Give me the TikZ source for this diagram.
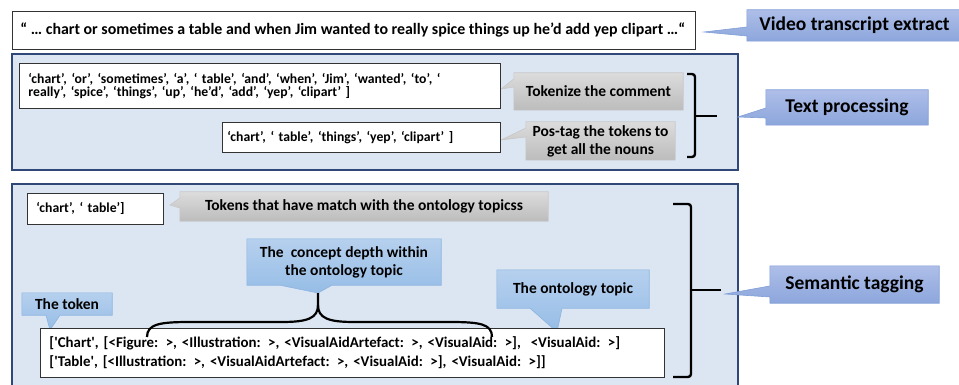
\documentclass[tikz,border=0pt]{standalone}
\usepackage{fontspec}
\setmainfont{Carlito}
\usetikzlibrary{calc}
\definecolor{panelfill}{RGB}{220,230,242}
\definecolor{panelline}{RGB}{47,72,120}
\definecolor{bluetop}{RGB}{174,190,232}
\definecolor{bluebot}{RGB}{140,166,220}
\definecolor{blueline}{RGB}{128,158,214}
\definecolor{ltop}{RGB}{182,208,238}
\definecolor{lbot}{RGB}{150,189,230}
\definecolor{lline}{RGB}{140,180,225}
\definecolor{gtop}{RGB}{220,220,220}
\definecolor{gbot}{RGB}{188,188,188}
\definecolor{gline}{RGB}{200,200,200}
\pgfdeclarelayer{bg}
\pgfdeclarelayer{mid}
\pgfsetlayers{bg,mid,main}
\tikzset{
  panel/.style={draw=panelline, line width=2.4pt, fill=panelfill},
  txtbox/.style={draw=black!80, line width=0.9pt, fill=white, anchor=north west,
    align=left, inner ysep=0pt, font=\bfseries\fontsize{13.7}{13.5}\selectfont},
  calltext/.style={inner sep=0pt, align=center, font=\bfseries\fontsize{15.5}{18}\selectfont},
  bigtext/.style={inner sep=0pt, align=center, font=\bfseries\fontsize{19.5}{22}\selectfont},
  bluecall/.style={top color=bluetop, bottom color=bluebot, draw=blueline, line width=0.6pt},
  lightcall/.style={top color=ltop, bottom color=lbot, draw=lline, line width=0.6pt},
  graycall/.style={top color=gtop, bottom color=gbot, draw=gline, line width=0.6pt},
  bracket/.style={draw=black, line width=2.4pt, rounded corners=3pt},
  curly/.style={draw=black, line width=2.2pt},
}
\begin{document}
\begin{tikzpicture}[x=1pt,y=-1pt]
\useasboundingbox (0,0) rectangle (959,385);

% panels
\begin{pgfonlayer}{bg}
\path[panel] (12,54) rectangle (738,170);
\path[panel] (12,184) rectangle (738,398);
\end{pgfonlayer}

% text boxes
\node[txtbox, minimum width=683, minimum height=38, inner xsep=8,
  font=\bfseries\fontsize{15.9}{16}\selectfont] (trans) at (12,11)
  {\makebox[667pt][l]{“ … chart or sometimes a table and when Jim wanted to really spice things up he’d add yep clipart …“}};
\node[txtbox, minimum width=481, minimum height=45, text width=463, inner xsep=9] (tb1) at (19,63)
  {‘chart’, ‘or’, ‘sometimes’, ‘a’, ‘ table’, ‘and’, ‘when’, ‘Jim’, ‘wanted’, ‘to’, ‘\\\relax
   really’, ‘spice’, ‘things’, ‘up’, ‘he’d’, ‘add’, ‘yep’, ‘clipart’ ]};
\node[txtbox, minimum width=278, minimum height=30, text width=268, inner xsep=5] (tb2) at (222,122)
  {‘chart’, ‘ table’, ‘things’, ‘yep’, ‘clipart’ ]};
\node[txtbox, minimum width=136, minimum height=31, text width=118, inner xsep=9] (ct) at (27,193)
  {‘chart’, ‘ table’]};
\node[txtbox, minimum width=624, minimum height=49, text width=606, inner xsep=9,
  font=\bfseries\fontsize{14.9}{19}\selectfont] (res) at (40,328)
  {[\textquotesingle Chart\textquotesingle, [<Figure: >, <Illustration: >, <VisualAidArtefact: >, <VisualAid: >],~ <VisualAid: >]\\\relax
   [\textquotesingle Table\textquotesingle, [<Illustration: >, <VisualAidArtefact: >, <VisualAid: >], <VisualAid: >]]};

% callout texts
\node[bigtext, minimum width=215, minimum height=31] (vte) at (854.5,25.5) {Video transcript extract};
\node[bigtext, minimum width=162, minimum height=35] (tpc) at (847,107.5) {Text processing};
\node[bigtext, minimum width=169, minimum height=37] (stc) at (854.5,284.5) {Semantic tagging};
\node[calltext, minimum width=169, minimum height=37] (tok) at (598.5,91.5) {Tokenize the comment};
\node[calltext, minimum width=149, minimum height=38] (pos) at (600.5,141) {Pos-tag the tokens to\\get all the nouns};
\node[calltext, minimum width=368, minimum height=29] (tmc) at (364,206.5) {Tokens that have match with the ontology topicss};
\node[calltext, minimum width=194, minimum height=46] (cdc) at (344,262) {The~ concept depth within\\the ontology topic};
\node[calltext, minimum width=90, minimum height=22] (tkc) at (67,304) {The token};
\node[calltext, minimum width=152, minimum height=38] (otc) at (573,289) {The ontology topic};

% pointer tips
\coordinate (vtetip) at (704,32);
\coordinate (tptip) at (738,117);
\coordinate (sttip) at (725,294);
\coordinate (toktip) at (501,89);
\coordinate (postip) at (501,140);
\coordinate (tmtip) at (170,205);
\coordinate (cdtip) at (318,293);
\coordinate (tktip) at (50,330);
\coordinate (ottip) at (557,332);

% callout shapes
\begin{pgfonlayer}{mid}
\path[bluecall] (vte.north west) -- (vte.north east) -- (vte.south east) -- (vte.south west)
  -- (vte.west |- 0,36) -- (vtetip) -- (vte.west |- 0,27) -- cycle;
\path[bluecall] (tpc.north west) -- (tpc.north east) -- (tpc.south east) -- (tpc.south west)
  -- (tpc.west |- 0,118) -- (tptip) -- (tpc.west |- 0,108) -- cycle;
\path[bluecall] (stc.north west) -- (stc.north east) -- (stc.south east) -- (stc.south west)
  -- (stc.west |- 0,297) -- (sttip) -- (stc.west |- 0,286) -- cycle;
\path[graycall] (tok.north west) -- (tok.north east) -- (tok.south east) -- (tok.south west)
  -- (tok.west |- 0,87) -- (toktip) -- (tok.west |- 0,79) -- cycle;
\path[graycall] (pos.north west) -- (pos.north east) -- (pos.south east) -- (pos.south west)
  -- (pos.west |- 0,137) -- (postip) -- (pos.west |- 0,128) -- cycle;
\path[graycall] (tmc.north west) -- (tmc.north east) -- (tmc.south east) -- (tmc.south west)
  -- (tmc.west |- 0,208) -- (tmtip) -- (tmc.west |- 0,198) -- cycle;
\path[lightcall] (cdc.north west) -- (cdc.north east) -- (cdc.south east)
  -- (332,0 |- cdc.south) -- (cdtip) -- (280,0 |- cdc.south) -- (cdc.south west) -- cycle;
\path[lightcall] (tkc.north west) -- (tkc.north east) -- (tkc.south east)
  -- (60,0 |- tkc.south) -- (tktip) -- (46,0 |- tkc.south) -- (tkc.south west) -- cycle;
\path[lightcall] (otc.north west) -- (otc.north east) -- (otc.south east)
  -- (562,0 |- otc.south) -- (ottip) -- (530,0 |- otc.south) -- (otc.south west) -- cycle;
\end{pgfonlayer}

% brackets
\coordinate (b1t) at (687,74);
\coordinate (b1m) at (717,116);
\coordinate (b1b) at (687,157);
\path[bracket] (b1t) -| (695,116) |- (b1b);
\path[bracket] (695,116) -- (b1m);
\coordinate (b2t) at (673,204);
\coordinate (b2m) at (721,290);
\coordinate (b2b) at (673,377);
\path[bracket] (b2t) -| (691,290) |- (b2b);
\path[bracket] (691,290) -- (b2m);

% horizontal curly brace
\coordinate (cbl) at (147,337);
\coordinate (cbr) at (492,337);
\path[curly] (cbl) .. controls (147,324) and (160,322) .. (190,322) -- (282,322)
  .. controls (308,322) and (318,318) .. (318,305) -- (cdtip);
\path[curly] (318,305) .. controls (318,318) and (328,322) .. (354,322) -- (450,322)
  .. controls (480,322) and (492,324) .. (cbr);
\end{tikzpicture}
\end{document}
